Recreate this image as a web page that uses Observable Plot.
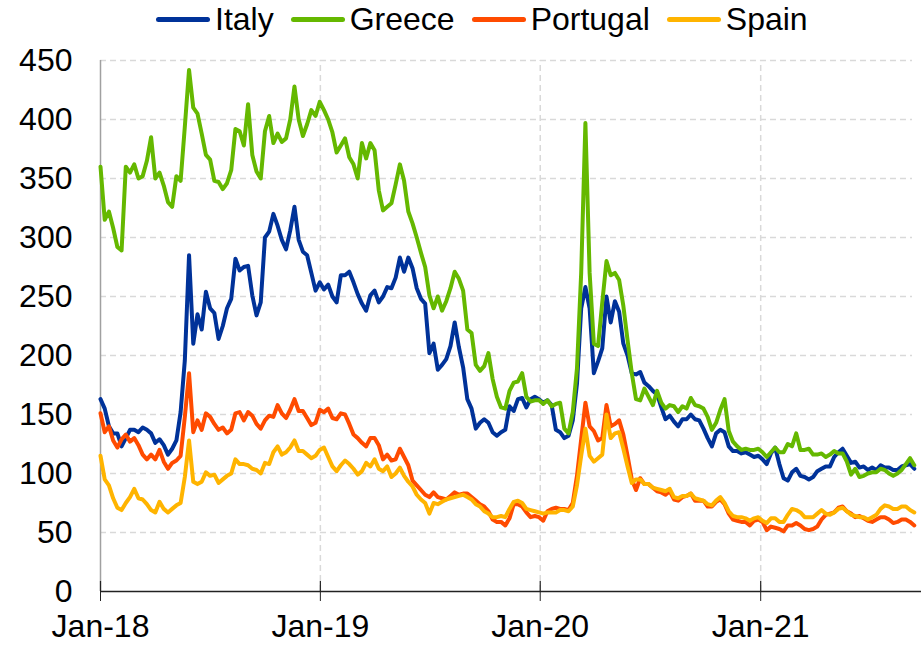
<!DOCTYPE html>
<html>
<head>
<meta charset="utf-8">
<script src="https://cdn.jsdelivr.net/npm/d3@7"></script>
<script src="https://cdn.jsdelivr.net/npm/@observablehq/plot@0.6"></script>
<style>
  html, body { margin: 0; padding: 0; background: #fff; }
  #legend { height: 38px; display: flex; align-items: center; padding-left: 156px;
            font-family: "Liberation Sans", Arial, sans-serif; font-size: 32px; color: #000; box-sizing: border-box; }
  .item { display: flex; align-items: center; margin-right: 17px; }
  .sw { display: inline-block; width: 54px; height: 5px; border-radius: 2.5px; margin-right: 5px; }
  svg { display: block; }
</style>
</head>
<body>
<div id="legend"></div>
<div id="chart"></div>
<script>
// Weekly observations starting 2018-01-01 (basis points)
const seriesNames = ["Italy", "Greece", "Portugal", "Spain"];
const seriesColors = ["#003299", "#65B800", "#FF4B00", "#FFB400"];
const startDate = "2018-01-01";

const italy = [
  163,155,140,134,134,123,130,137,137,135, 139,137,134,126,129,124,116,121,128,152,
  196,285,210,235,222,254,240,236,214,225, 240,248,282,272,275,276,251,234,245,300,
  305,320,310,298,290,306,326,298,288,285, 270,255,262,256,260,250,245,268,268,271,
  262,252,244,238,251,255,245,250,258,257, 266,283,271,283,274,257,248,244,202,
  210,188,192,197,208,228,207,190,163,155, 138,143,146,143,135,132,135,137,157,153,
  163,164,156,163,165,163,160,162,158,137, 135,130,132,145,176,240,258,240,185,
  195,206,250,228,246,237,210,200,185,184, 186,177,174,170,167,156,146,149,144,140,
  146,146,150,146,145,138,130,123,134,137, 135,123,119,119,117,118,116,114,
  115,112,108,117,122,108,96,94,101,104, 98,97,95,97,102,104,106,106,114,118,
  121,115,109,110,105,106,103,105,103,107, 105,105,103,103,106,107,108,104
];
const greece = [
  360,315,322,308,292,289,360,355,362,350, 352,365,385,350,355,344,330,326,352,348,
  394,442,410,405,388,370,366,348,347,341, 346,357,392,390,378,413,370,356,350,390,
  403,380,388,381,384,400,428,400,386,396, 408,403,415,408,400,389,372,378,384,368,
  362,350,380,367,380,374,340,323,326,329, 345,362,348,322,312,300,287,275,251,
  240,250,238,246,257,271,265,255,222,219, 192,187,191,202,180,165,156,155,170,177,
  178,185,165,161,162,162,159,162,157,159, 160,138,134,152,189,270,397,270,210,
  208,245,280,268,270,264,242,213,185,163, 162,172,165,158,170,160,155,158,157,152,
  157,155,164,158,157,155,148,137,143,154, 163,136,127,123,120,121,120,120,
  121,118,114,118,122,118,118,125,123,134, 120,120,121,116,116,117,114,116,119,117,
  117,110,99,104,97,98,100,101,101,104, 103,100,98,100,103,108,113,107
];
const portugal = [
  151,135,140,128,122,129,133,127,130,124, 116,112,116,112,120,110,104,109,111,115,
  148,185,135,145,137,151,148,142,137,139, 134,137,151,152,145,152,149,142,138,145,
  149,148,158,151,147,154,163,153,153,147, 141,143,154,152,155,147,146,151,150,142,
  133,130,126,123,130,130,124,112,116,111, 112,121,114,107,94,90,86,82,80,
  84,80,79,78,81,84,82,83,83,80, 77,74,72,68,61,59,59,56,62,74,
  74,72,67,63,64,63,60,68,70,71, 70,70,69,75,98,129,160,140,136,
  128,130,158,140,142,145,133,115,95,86, 96,91,91,88,85,84,82,85,78,77,
  80,81,83,77,77,77,72,72,76,78, 74,66,61,60,59,59,56,60,
  61,59,52,55,54,53,51,56,56,58, 56,53,52,53,55,61,65,66,67,71,
  72,68,66,63,64,62,60,59,61,63, 63,61,58,59,61,61,59,56
];
const spain = [
  115,95,90,79,71,69,75,80,87,79, 78,74,69,67,76,70,67,70,73,75,
  97,128,93,91,93,101,98,99,92,95, 98,100,112,108,108,107,104,103,100,109,
  108,118,123,116,118,122,128,119,119,116, 113,115,120,122,114,106,102,107,111,108,
  104,99,102,109,106,112,104,102,106,97, 100,105,98,93,89,82,78,75,66,
  75,74,76,78,79,80,81,82,80,78, 74,72,68,66,63,63,64,63,70,76,
  77,75,70,69,68,67,66,67,67,67, 69,69,68,72,90,115,138,115,110,
  113,116,150,130,134,135,121,106,92,95, 95,91,91,88,87,86,85,87,80,79,
  81,81,83,79,78,77,74,73,77,80, 75,68,64,63,63,62,60,62,
  63,60,58,62,62,59,59,65,70,69, 67,63,63,63,66,69,66,65,67,70,
  71,68,65,64,63,63,61,63,65,70, 73,72,70,70,72,72,69,67
];

const yTicks = [0, 50, 100, 150, 200, 250, 300, 350, 400, 450];
const yGrid = [50, 100, 150, 200, 250, 300, 350, 400, 450];
const xTickDates = ["2018-01-01", "2019-01-01", "2020-01-01", "2021-01-01"];
const xGridDates = ["2019-01-01", "2020-01-01", "2021-01-01"];
const xDomain = ["2018-01-01", "2021-09-15"];

// build table
const t0 = new Date(startDate + "T00:00:00Z");
const weeks = italy.map((_, i) => d3.utcDay.offset(t0, 7 * i));
const valuesByName = { Italy: italy, Greece: greece, Portugal: portugal, Spain: spain };
const data = seriesNames.flatMap(name =>
  valuesByName[name].map((v, i) => ({ date: weeks[i], value: v, country: name })));
const toDate = s => new Date(s + "T00:00:00Z");

// legend
const legend = document.getElementById("legend");
seriesNames.forEach((n, i) => {
  const it = document.createElement("div");
  it.className = "item";
  it.innerHTML = `<span class="sw" style="background:${seriesColors[i]}"></span><span>${n}</span>`;
  legend.appendChild(it);
});

const chart = Plot.plot({
  width: 922,
  height: 607,
  marginTop: 22,
  marginBottom: 54,
  marginLeft: 100,
  marginRight: 7,
  style: { fontFamily: "'Liberation Sans', Arial, sans-serif", fontSize: "32px", color: "#000", background: "#fff" },
  x: { type: "utc", domain: xDomain.map(toDate) },
  y: { domain: [0, 450] },
  color: { domain: seriesNames, range: seriesColors },
  marks: [
    Plot.ruleY(yGrid, { stroke: "#d9d9d9", strokeWidth: 1.5, strokeDasharray: "6,4", insetRight: 3 }),
    Plot.ruleX(xGridDates.map(toDate), { y1: 0, y2: 450, stroke: "#d9d9d9", strokeWidth: 1.5, strokeDasharray: "6,4" }),
    Plot.ruleX([toDate(xDomain[0])], { y1: 0, y2: 450, stroke: "#a0a0a0", strokeWidth: 1.5 }),
    Plot.line(data, { x: "date", y: "value", z: "country", stroke: "country", strokeWidth: 4,
                      strokeLinejoin: "round", strokeLinecap: "round" }),
    Plot.ruleY([0], { stroke: "#222", strokeWidth: 1.5, insetRight: -6 }),
    Plot.ruleX(xTickDates.map(toDate), { y1: 0, y2: 8.5, stroke: "#222", strokeWidth: 1.2 }),
    Plot.axisY({ ticks: yTicks, tickSize: 0, tickPadding: 28, fontSize: 32, label: null }),
    Plot.axisX({ ticks: xTickDates.map(toDate), tickSize: 10, tickPadding: 13, stroke: "#222",
                 tickFormat: d3.utcFormat("%b-%y"), fontSize: 32, label: null })
  ]
});
document.getElementById("chart").appendChild(chart);
</script>
</body>
</html>
